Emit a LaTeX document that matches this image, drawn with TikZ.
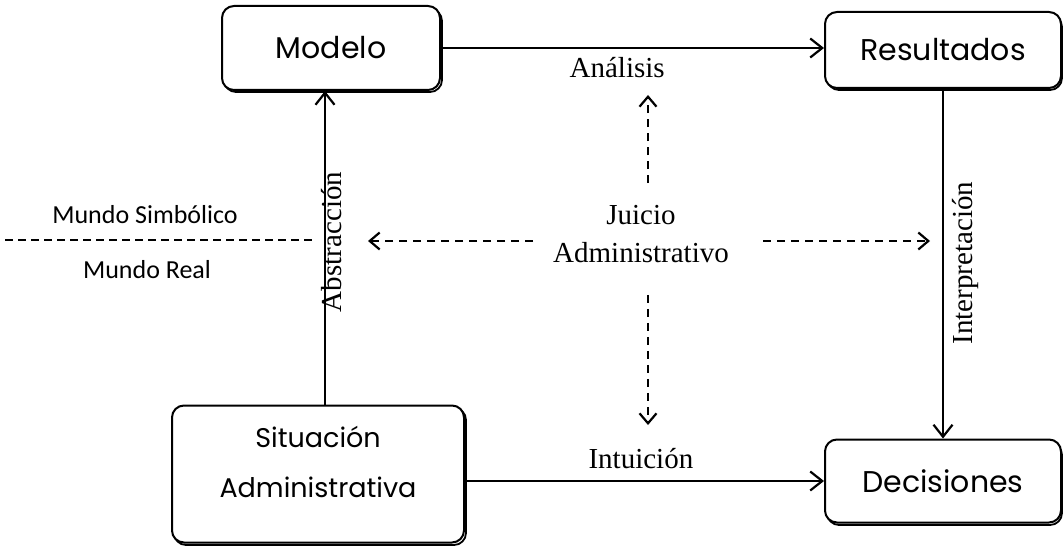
\documentclass[tikz,border=0pt]{standalone}
\usepackage{fontspec}
\setmainfont{Liberation Serif}
\newfontfamily\boxfont{Poppins}
\newfontfamily\mundofont{Carlito}
\usetikzlibrary{arrows.meta,calc}
\begin{document}
\begin{tikzpicture}[x=1pt,y=-1pt,
  box/.style={draw,line width=2pt,rounded corners=12pt,fill=white,font=\boxfont\fontsize{30}{36}\selectfont,align=center,inner sep=0pt},
  shad/.style={draw,line width=1.8pt,rounded corners=12pt},
  arr/.style={line width=2pt,-{Straight Barb[length=12pt,width=19pt,line width=2.2pt]}},
  darr/.style={line width=2pt,dash pattern=on 8pt off 6pt,-{Straight Barb[length=10pt,width=17pt,line width=2.2pt]}},
  lbl/.style={font=\fontsize{29}{34}\selectfont,inner sep=0pt},
  mundo/.style={font=\mundofont\fontsize{26}{30}\selectfont,inner sep=0pt}]
\useasboundingbox (0,0) rectangle (1064,548);
% shadows
\draw[shad] (224,9) rectangle (442,92);
\draw[shad] (827,15) rectangle (1062,90);
\draw[shad] (827,443) rectangle (1062,525);
\draw[shad] (174,408) rectangle (466,545);
% boxes
\node[box,minimum width=218pt,minimum height=84pt] (mod) at (331,48) {Modelo};
\node[box,minimum width=236pt,minimum height=76pt] (res) at (943,50) {Resultados};
\node[box,minimum width=236pt,minimum height=83pt] (dec) at (943,481) {Decisiones};
\node[box,minimum width=292pt,minimum height=137pt,text depth=24pt,font=\boxfont\fontsize{27}{50}\selectfont] (sit) at (318,474) {Situación\\Administrativa};
% center
\node[lbl,align=center,font=\fontsize{29}{38}\selectfont] (jui) at (641,234) {Juicio\\Administrativo};
\coordinate (jup) at (648,95);
\coordinate (jdn) at (648,425);
\coordinate (jlf) at (368,241);
\coordinate (jrt) at (930,241);
\draw[darr] (jui.north -| jup) ++(0,-22) -- (jup);
\draw[darr] (jui.south -| jdn) ++(0,32) -- (jdn);
\draw[darr] (jui.west |- jlf) ++(-20,0) -- (jlf);
\draw[darr] (jui.east |- jrt) ++(34,0) -- (jrt);
% connectors
\draw[arr] (mod.east) -- (mod.east -| res.west) node[lbl,pos=0.46,below=8pt] (ana) {Análisis};
\draw[arr] (sit.north -| 325,0) -- (mod.south -| 325,0);
\draw[arr] (res.south) -- (dec.north);
\draw[arr] (sit.east |- dec.west) -- (dec.west) node[lbl,pos=0.49,above=11pt] (int) {Intuición};
\node[lbl,rotate=90] (abs) at (332,242) {Abstracción};
\node[lbl,rotate=90] (inte) at (965,263) {Interpretación};
% mundo
\node[mundo] (ms) at (145,215) {Mundo Simbólico};
\node[mundo] (mr) at (147,270) {Mundo Real};
\coordinate (dl) at (5,240);
\coordinate (dr) at (316,240);
\draw[line width=1.8pt,dash pattern=on 8pt off 5pt] (dl) -- (dr);
\end{tikzpicture}
\end{document}
